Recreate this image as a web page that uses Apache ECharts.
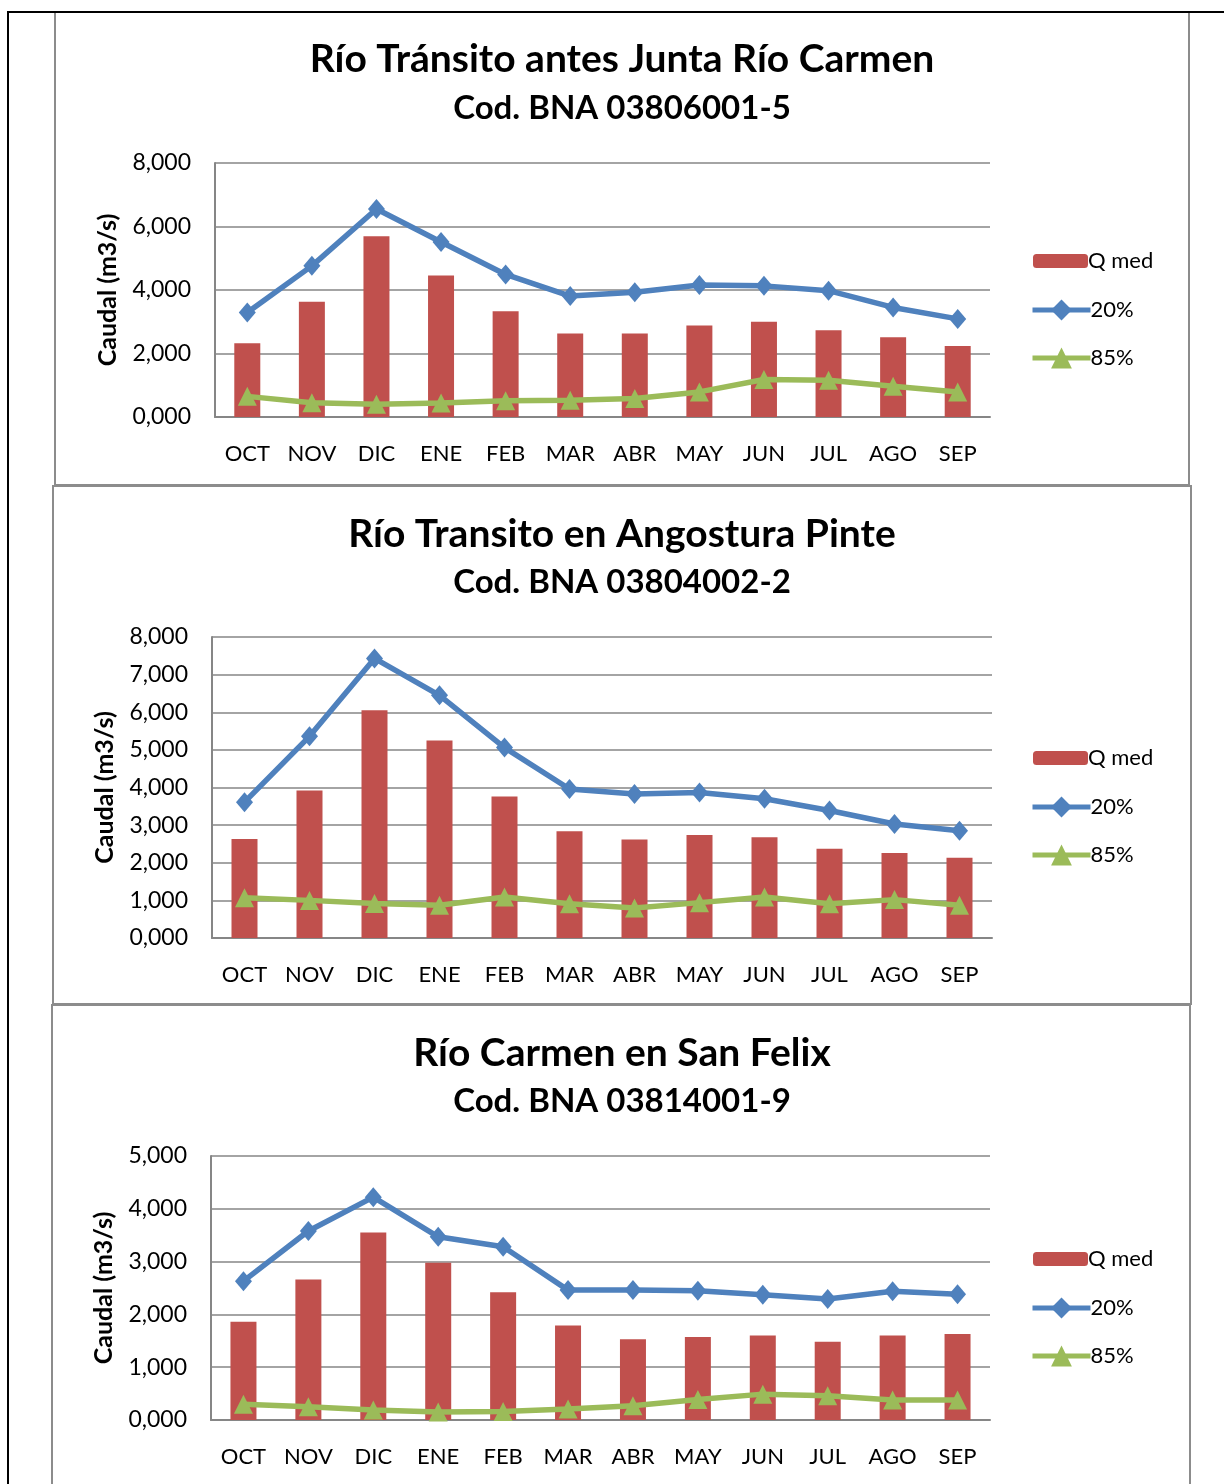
<!DOCTYPE html>
<html>
<head>
<meta charset="utf-8">
<script src="https://cdn.jsdelivr.net/npm/echarts@6/dist/echarts.min.js"></script>
<style>
html, body { margin: 0; padding: 0; background: #fff; }
#container { width: 1224px; height: 1484px; }
</style>
</head>
<body>
<div id="container"></div>
<script>
// months of the hydrological year
var months = ["OCT", "NOV", "DIC", "ENE", "FEB", "MAR", "ABR", "MAY", "JUN", "JUL", "AGO", "SEP"];

var titles = ["Río Tránsito antes Junta Río Carmen", "Río Transito en Angostura Pinte", "Río Carmen en San Felix"];
var codes = ["Cod. BNA 03806001-5", "Cod. BNA 03804002-2", "Cod. BNA 03814001-9"];

// Río Tránsito antes Junta Río Carmen
var qmed1 = [2.32, 3.63, 5.69, 4.46, 3.33, 2.63, 2.63, 2.88, 3.00, 2.73, 2.51, 2.24];
var p20_1 = [3.29, 4.76, 6.55, 5.51, 4.49, 3.81, 3.93, 4.16, 4.13, 3.98, 3.45, 3.09];
var p85_1 = [0.65, 0.45, 0.40, 0.44, 0.51, 0.53, 0.58, 0.79, 1.18, 1.16, 0.97, 0.79];

// Río Transito en Angostura Pinte
var qmed2 = [2.63, 3.92, 6.05, 5.25, 3.76, 2.84, 2.62, 2.74, 2.68, 2.37, 2.26, 2.13];
var p20_2 = [3.61, 5.36, 7.43, 6.45, 5.06, 3.96, 3.83, 3.87, 3.70, 3.39, 3.03, 2.85];
var p85_2 = [1.07, 1.00, 0.92, 0.87, 1.09, 0.91, 0.80, 0.94, 1.09, 0.91, 1.02, 0.87];

// Río Carmen en San Felix
var qmed3 = [1.86, 2.66, 3.55, 2.98, 2.42, 1.79, 1.53, 1.57, 1.60, 1.48, 1.60, 1.63];
var p20_3 = [2.63, 3.58, 4.22, 3.47, 3.28, 2.46, 2.46, 2.45, 2.37, 2.29, 2.44, 2.38];
var p85_3 = [0.30, 0.25, 0.19, 0.15, 0.16, 0.21, 0.27, 0.39, 0.49, 0.46, 0.38, 0.38];

// y axis ranges
var yMax = [8, 8, 5];
var yStep = [2, 1, 1];

var FONT = "Lato";
var data = [[qmed1, p20_1, p85_1], [qmed2, p20_2, p85_2], [qmed3, p20_3, p85_3]];

// layout of each panel (pixels)
var panels = [
  { box: [55, 12, 1134, 473], grid: [215, 163, 775, 254], title: 35, sub: 87, legA: 245, legB: 294 },
  { box: [53, 486, 1138, 518], grid: [212, 637, 780, 301], title: 510, sub: 561, legA: 742, legB: 791 },
  { box: [52, 1005, 1138, 520], grid: [211, 1156, 779, 264], title: 1029, sub: 1080, legA: 1243, legB: 1292 }
];

var chartDom = document.getElementById("container");
var myChart = echarts.init(chartDom);

var title = [], grid = [], xAxis = [], yAxis = [], legend = [], series = [];
var graphic = [
  {
    type: "rect", z: 100,
    shape: { x: 8, y: 12, width: 1300, height: 1500 },
    style: { fill: "none", stroke: "#000", lineWidth: 2 }
  }
];

var legendText = { fontFamily: FONT, fontSize: 22, color: "#000", padding: [0, 0, 0, -5] };

panels.forEach(function(p, i) {
  graphic.push({
    type: "rect", z: 90,
    shape: { x: p.box[0], y: p.box[1], width: p.box[2], height: p.box[3] },
    style: { fill: "none", stroke: "#8c8c8c", lineWidth: 2 }
  });
  title.push({
    text: titles[i], left: 617, top: p.title, textAlign: "center",
    textStyle: { fontFamily: FONT, fontSize: 39, fontWeight: "bold", color: "#000" }
  });
  title.push({
    text: codes[i], left: 617, top: p.sub, textAlign: "center",
    textStyle: { fontFamily: FONT, fontSize: 33, fontWeight: "bold", color: "#000" }
  });
  grid.push({ left: p.grid[0], top: p.grid[1], width: p.grid[2], height: p.grid[3] });
  xAxis.push({
    type: "category", gridIndex: i, data: months,
    axisLine: { lineStyle: { color: "#868686", width: 2 } },
    axisTick: { show: false },
    axisLabel: { fontFamily: FONT, fontSize: 22, color: "#000", margin: 26 }
  });
  yAxis.push({
    type: "value", gridIndex: i, min: 0, max: yMax[i], interval: yStep[i],
    name: "Caudal (m3/s)", nameLocation: "middle", nameGap: 95,
    nameTextStyle: { fontFamily: FONT, fontSize: 25, fontWeight: "bold", color: "#000" },
    axisLine: { show: true, lineStyle: { color: "#868686", width: 2 } },
    axisTick: { show: false },
    splitLine: { lineStyle: { color: "#868686", width: 1.5 } },
    axisLabel: {
      fontFamily: FONT, fontSize: 23, color: "#000", margin: 24,
      formatter: function(v) { return v.toFixed(3).replace(".", ","); }
    }
  });
  // bar entry and line entries use different icon heights
  legend.push({
    orient: "vertical", left: 1028, top: p.legA,
    itemWidth: 55, itemHeight: 14,
    data: ["Q med"],
    textStyle: legendText
  });
  legend.push({
    orient: "vertical", left: 1025, top: p.legB, itemGap: 26,
    itemWidth: 58, itemHeight: 26,
    data: ["20%", "85%"],
    lineStyle: { width: 5 },
    textStyle: legendText
  });
  series.push({
    name: "Q med", type: "bar", xAxisIndex: i, yAxisIndex: i,
    data: data[i][0], barWidth: 26,
    itemStyle: { color: "#C0504D" }
  });
  series.push({
    name: "20%", type: "line", xAxisIndex: i, yAxisIndex: i,
    data: data[i][1], symbol: "diamond", symbolSize: [17, 20],
    lineStyle: { color: "#4F81BD", width: 5.5 },
    itemStyle: { color: "#4F81BD" }
  });
  series.push({
    name: "85%", type: "line", xAxisIndex: i, yAxisIndex: i,
    data: data[i][2], symbol: "triangle", symbolSize: [19, 19],
    lineStyle: { color: "#9BBB59", width: 5.5 },
    itemStyle: { color: "#9BBB59" }
  });
});

var option = {
  animation: false,
  backgroundColor: "#fff",
  title: title,
  grid: grid,
  xAxis: xAxis,
  yAxis: yAxis,
  legend: legend,
  series: series,
  graphic: graphic
};
option && myChart.setOption(option);
</script>
</body>
</html>
